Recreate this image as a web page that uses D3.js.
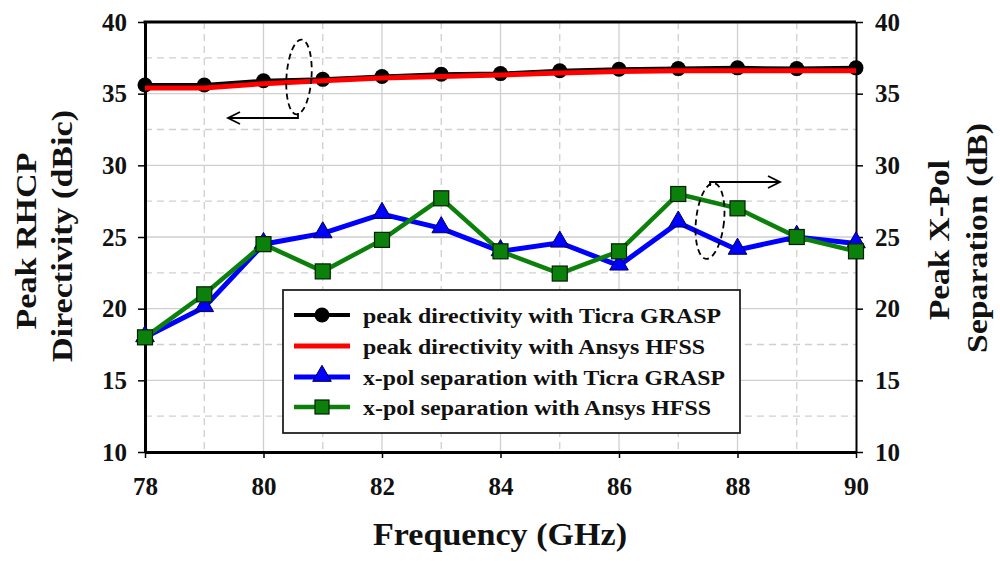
<!DOCTYPE html>
<html><head><meta charset="utf-8">
<script src="https://cdn.jsdelivr.net/npm/d3@7"></script>
<style>
html,body{margin:0;padding:0;background:#fff;}
svg{display:block;}
text{font-family:"Liberation Serif","Times New Roman",serif;font-weight:bold;fill:#111;}
</style></head>
<body>
<svg id="chart" width="1000" height="561"></svg>
<script>
// ---- data ----
const freq = [78, 79, 80, 81, 82, 83, 84, 85, 86, 87, 88, 89, 90];
const dirGrasp = [35.6, 35.6, 35.9, 36.0, 36.2, 36.35, 36.4, 36.6, 36.7, 36.75, 36.8, 36.75, 36.8];
const dirHfss  = [35.4, 35.4, 35.7, 35.9, 36.1, 36.2, 36.3, 36.45, 36.55, 36.6, 36.6, 36.6, 36.6];
const xpolGrasp = [18.0, 20.1, 24.5, 25.25, 26.6, 25.6, 24.0, 24.6, 23.0, 26.0, 24.1, 25.0, 24.55];
const xpolHfss  = [18.0, 21.0, 24.5, 22.6, 24.8, 27.7, 24.0, 22.45, 24.0, 28.0, 27.0, 25.0, 24.0];
const xTicks = [78, 80, 82, 84, 86, 88, 90];
const yTicks = [10, 15, 20, 25, 30, 35, 40];
const legendLabels = [
  "peak directivity with Ticra GRASP",
  "peak directivity with Ansys HFSS",
  "x-pol separation with Ticra GRASP",
  "x-pol separation with Ansys HFSS"
];
const xLabel = "Frequency (GHz)";
const yLeftLabel = ["Peak RHCP", "Directivity (dBic)"];
const yRightLabel = ["Peak X-Pol", "Separation (dB)"];

// ---- layout ----
const svg = d3.select("#chart");
const L = 145, R = 856, T = 22, B = 452;
const x = d3.scaleLinear().domain([78, 90]).range([L, R]);
const y = d3.scaleLinear().domain([10, 40]).range([B, T]);

// grid
const g = svg.append("g");
d3.range(79, 90, 1).forEach(v => {
  g.append("line").attr("x1", x(v)).attr("x2", x(v)).attr("y1", T).attr("y2", B)
    .attr("stroke", "#cfcfcf").attr("stroke-width", 1.3)
    .attr("stroke-dasharray", v % 2 ? "7,5" : null);
});
d3.range(12.5, 40, 2.5).forEach(v => {
  g.append("line").attr("x1", L).attr("x2", R).attr("y1", y(v)).attr("y2", y(v))
    .attr("stroke", "#cfcfcf").attr("stroke-width", 1.3)
    .attr("stroke-dasharray", (v % 5) ? "7,5" : null);
});

// axes
function styleAxis(sel, w) {
  sel.select(".domain").attr("stroke", "#000").attr("stroke-width", w);
  sel.selectAll(".tick line").attr("stroke", "#000").attr("stroke-width", 1.5);
  sel.selectAll(".tick text").style("font-size", "25px").attr("fill", "#111")
    .style("font-family", "'Liberation Serif',serif").style("font-weight", "bold");
}
const axL = svg.append("g").attr("transform", `translate(${L},0)`)
  .call(d3.axisLeft(y).tickValues(yTicks).tickSize(7).tickSizeOuter(0).tickPadding(11));
styleAxis(axL, 3);
const axR = svg.append("g").attr("transform", `translate(${R},0)`)
  .call(d3.axisRight(y).tickValues(yTicks).tickSize(7).tickSizeOuter(0).tickPadding(12));
styleAxis(axR, 2);
const axB = svg.append("g").attr("transform", `translate(0,${B})`)
  .call(d3.axisBottom(x).tickValues(xTicks).tickSize(6).tickSizeOuter(0).tickPadding(19));
styleAxis(axB, 3);
svg.append("line").attr("x1", L - 1.5).attr("x2", R).attr("y1", T).attr("y2", T)
  .attr("stroke", "#000").attr("stroke-width", 3);

// series
const line = d3.line().x(d => x(d[0])).y(d => y(d[1]));
const zip = arr => freq.map((f, i) => [f, arr[i]]);
const plot = svg.append("g");

// black GRASP directivity
plot.append("path").datum(zip(dirGrasp)).attr("d", line)
  .attr("fill", "none").attr("stroke", "#000").attr("stroke-width", 4);
plot.selectAll(".circ").data(zip(dirGrasp)).enter().append("circle")
  .attr("cx", d => x(d[0])).attr("cy", d => y(d[1])).attr("r", 7.5).attr("fill", "#000");
// red HFSS directivity
plot.append("path").datum(zip(dirHfss)).attr("d", line)
  .attr("fill", "none").attr("stroke", "#ff0000").attr("stroke-width", 5);

// blue
plot.append("path").datum(zip(xpolGrasp)).attr("d", line)
  .attr("fill", "none").attr("stroke", "#0000ff").attr("stroke-width", 5);
const tri = d3.symbol().type(d3.symbolTriangle).size(150);
plot.selectAll(".tri").data(zip(xpolGrasp)).enter().append("path")
  .attr("d", tri).attr("transform", d => `translate(${x(d[0])},${y(d[1]) - 1})`)
  .attr("fill", "#0000ff").attr("stroke", "#000050").attr("stroke-width", 1);
// green
plot.append("path").datum(zip(xpolHfss)).attr("d", line)
  .attr("fill", "none").attr("stroke", "#0b800b").attr("stroke-width", 4.5);
plot.selectAll(".sq").data(zip(xpolHfss)).enter().append("rect")
  .attr("x", d => x(d[0]) - 7.5).attr("y", d => y(d[1]) - 7.5).attr("width", 15).attr("height", 15)
  .attr("fill", "#0b800b").attr("stroke", "#002000").attr("stroke-width", 1.2);

// annotations: ellipses and arrows
const ann = svg.append("g").attr("fill", "none").attr("stroke", "#000").attr("stroke-width", 1.8);
ann.append("ellipse").attr("cx", 299).attr("cy", 77).attr("rx", 12.5).attr("ry", 37.5)
  .attr("stroke-dasharray", "6,4").attr("transform", "rotate(4,299,77)");
ann.append("path").attr("d", "M298,113 L298,118 L228,118");
ann.append("path").attr("d", "M240,112 L228,118 L240,124");
ann.append("ellipse").attr("cx", 710).attr("cy", 221).attr("rx", 14).attr("ry", 38)
  .attr("stroke-dasharray", "6,4").attr("transform", "rotate(6,710,221)");
ann.append("path").attr("d", "M710,186 L710,182 L780,182");
ann.append("path").attr("d", "M768,176 L780,182 L768,188");

// legend
const leg = svg.append("g");
leg.append("rect").attr("x", 283).attr("y", 290).attr("width", 457).attr("height", 143)
  .attr("fill", "#fff").attr("stroke", "#222").attr("stroke-width", 1.8);
const legY = [315, 346, 377, 407];
const legW = [358, 342, 362, 348];
const legStyle = [
  {c: "#000", w: 4, m: "circle"},
  {c: "#ff0000", w: 5, m: null},
  {c: "#0000ff", w: 5, m: "tri"},
  {c: "#0b800b", w: 4.5, m: "sq"}
];
legendLabels.forEach((t, i) => {
  const yy = legY[i], s = legStyle[i];
  leg.append("line").attr("x1", 294).attr("x2", 350).attr("y1", yy).attr("y2", yy)
    .attr("stroke", s.c).attr("stroke-width", s.w);
  if (s.m === "circle") leg.append("circle").attr("cx", 322).attr("cy", yy).attr("r", 7.5).attr("fill", "#000");
  if (s.m === "tri") leg.append("path").attr("d", tri).attr("transform", `translate(322,${yy - 1})`)
    .attr("fill", "#0000ff").attr("stroke", "#000050");
  if (s.m === "sq") leg.append("rect").attr("x", 315).attr("y", yy - 7).attr("width", 14).attr("height", 14)
    .attr("fill", "#0b800b").attr("stroke", "#002000").attr("stroke-width", 1.2);
  leg.append("text").attr("x", 363).attr("y", yy + 8).style("font-size", "22px")
    .attr("textLength", legW[i]).attr("lengthAdjust", "spacingAndGlyphs").text(t);
});

// axis titles
svg.append("text").attr("x", 500).attr("y", 545).attr("text-anchor", "middle")
  .style("font-size", "32px").attr("textLength", 254).attr("lengthAdjust", "spacingAndGlyphs").text(xLabel);
svg.append("text").attr("transform", "translate(36,241) rotate(-90)").attr("text-anchor", "middle")
  .style("font-size", "30px").attr("textLength", 177).attr("lengthAdjust", "spacingAndGlyphs").text(yLeftLabel[0]);
svg.append("text").attr("transform", "translate(72,236) rotate(-90)").attr("text-anchor", "middle")
  .style("font-size", "30px").attr("textLength", 252).attr("lengthAdjust", "spacingAndGlyphs").text(yLeftLabel[1]);
svg.append("text").attr("transform", "translate(949,240) rotate(-90)").attr("text-anchor", "middle")
  .style("font-size", "30px").attr("textLength", 160).attr("lengthAdjust", "spacingAndGlyphs").text(yRightLabel[0]);
svg.append("text").attr("transform", "translate(987,238) rotate(-90)").attr("text-anchor", "middle")
  .style("font-size", "30px").attr("textLength", 230).attr("lengthAdjust", "spacingAndGlyphs").text(yRightLabel[1]);
</script>
</body></html>
